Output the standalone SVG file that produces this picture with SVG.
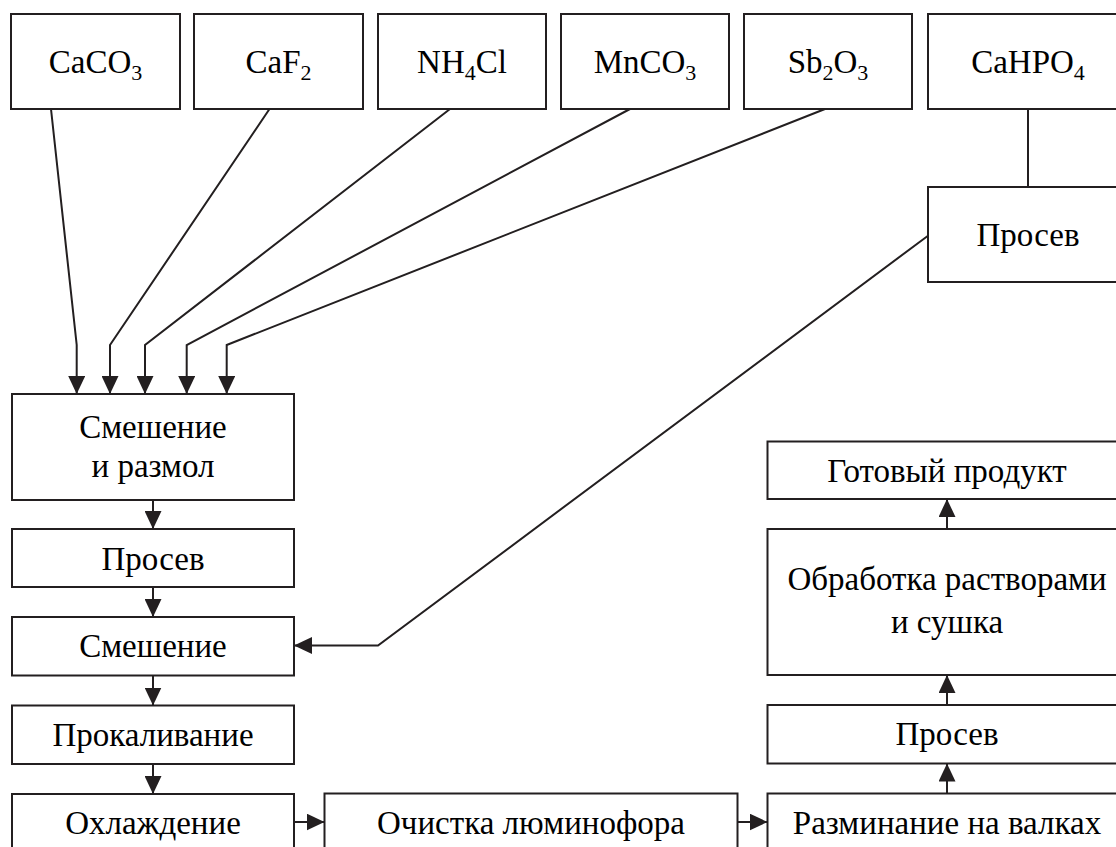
<svg xmlns="http://www.w3.org/2000/svg" width="1116" height="847" viewBox="0 0 1116 847">
<style>
.box{fill:#fff;stroke:#231f20;stroke-width:2}
.t{font-family:"Liberation Serif","Times New Roman",serif;font-size:33px;fill:#000;text-anchor:middle}
.s{font-size:22px}
.c{fill:none;stroke:#231f20;stroke-width:2}
</style>
<defs>
<marker id="ah" markerUnits="userSpaceOnUse" viewBox="0 0 18 17" refX="18" refY="8.5" markerWidth="18" markerHeight="17" orient="auto">
<path d="M0,0 L18,8.5 L0,17 z" fill="#231f20"/>
</marker>
</defs>
<rect width="1116" height="847" fill="#fff"/>

<g id="caco3"><rect class="box" x="11" y="14" width="169" height="95"/><text class="t" x="95.5" y="73">CaCO<tspan class="s" dy="7">3</tspan></text></g>
<g id="caf2"><rect class="box" x="194" y="14" width="169" height="95"/><text class="t" x="278.5" y="73">CaF<tspan class="s" dy="7">2</tspan></text></g>
<g id="nh4cl"><rect class="box" x="378" y="14" width="168" height="95"/><text class="t" x="462" y="73">NH<tspan class="s" dy="7">4</tspan><tspan dy="-7">Cl</tspan></text></g>
<g id="mnco3"><rect class="box" x="561" y="14" width="168" height="95"/><text class="t" x="645" y="73">MnCO<tspan class="s" dy="7">3</tspan></text></g>
<g id="sb2o3"><rect class="box" x="744" y="14" width="168" height="95"/><text class="t" x="828" y="73">Sb<tspan class="s" dy="7">2</tspan><tspan dy="-7">O</tspan><tspan class="s" dy="7">3</tspan></text></g>
<g id="cahpo4"><rect class="box" x="928" y="14" width="200" height="95"/><text class="t" x="1028" y="73">CaHPO<tspan class="s" dy="7">4</tspan></text></g>

<g id="prosev-top"><rect class="box" x="928" y="187" width="200" height="95"/><text class="t" x="1028" y="246">Просев</text></g>

<g id="smeshenie-razmol"><rect class="box" x="12" y="394" width="282" height="106"/><text class="t" x="153" y="438">Смешение</text><text class="t" x="153" y="477">и размол</text></g>
<g id="prosev-1"><rect class="box" x="12" y="529" width="282" height="58"/><text class="t" x="153" y="570">Просев</text></g>
<g id="smeshenie"><rect class="box" x="12" y="617" width="282" height="58.5"/><text class="t" x="153" y="657">Смешение</text></g>
<g id="prokalivanie"><rect class="box" x="12" y="705.5" width="282" height="58.5"/><text class="t" x="153" y="745.5">Прокаливание</text></g>
<g id="ohlazhdenie"><rect class="box" x="12" y="794" width="282" height="70"/><text class="t" x="153" y="834">Охлаждение</text></g>

<g id="ochistka"><rect class="box" x="324.5" y="793.5" width="413" height="70"/><text class="t" x="531" y="834">Очистка люминофора</text></g>
<g id="razminanie"><rect class="box" x="767.5" y="793.5" width="362" height="70"/><text class="t" x="947" y="834">Разминание на валках</text></g>
<g id="prosev-2"><rect class="box" x="767.5" y="705" width="362" height="58.5"/><text class="t" x="947" y="745">Просев</text></g>
<g id="obrabotka"><rect class="box" x="767.5" y="529" width="362" height="146"/><text class="t" x="947" y="589.5">Обработка растворами</text><text class="t" x="947" y="632.5">и сушка</text></g>
<g id="gotovyi"><rect class="box" x="767.5" y="441.5" width="362" height="57.5"/><text class="t" x="947" y="481.5">Готовый продукт</text></g>

<g id="connectors">
<polyline class="c" points="51,109 76.7,345 76.7,394" marker-end="url(#ah)"/>
<polyline class="c" points="269.5,109 110,345 110,394" marker-end="url(#ah)"/>
<polyline class="c" points="450,109 145,345 145,394" marker-end="url(#ah)"/>
<polyline class="c" points="630,109 186.7,345 186.7,394" marker-end="url(#ah)"/>
<polyline class="c" points="825,109 226.7,345 226.7,394" marker-end="url(#ah)"/>
<line class="c" x1="1028" y1="109" x2="1028" y2="187"/>
<polyline class="c" points="928,235.7 378,645.5 294,645.5" marker-end="url(#ah)"/>
<line class="c" x1="153" y1="500" x2="153" y2="529" marker-end="url(#ah)"/>
<line class="c" x1="153" y1="587" x2="153" y2="617" marker-end="url(#ah)"/>
<line class="c" x1="153" y1="675.5" x2="153" y2="705.5" marker-end="url(#ah)"/>
<line class="c" x1="153" y1="764" x2="153" y2="794" marker-end="url(#ah)"/>
<line class="c" x1="294" y1="822" x2="324.5" y2="822" marker-end="url(#ah)"/>
<line class="c" x1="737.5" y1="822" x2="767.5" y2="822" marker-end="url(#ah)"/>
<line class="c" x1="947" y1="793.5" x2="947" y2="763.5" marker-end="url(#ah)"/>
<line class="c" x1="947" y1="705" x2="947" y2="675" marker-end="url(#ah)"/>
<line class="c" x1="947" y1="529" x2="947" y2="499" marker-end="url(#ah)"/>
</g>
</svg>
